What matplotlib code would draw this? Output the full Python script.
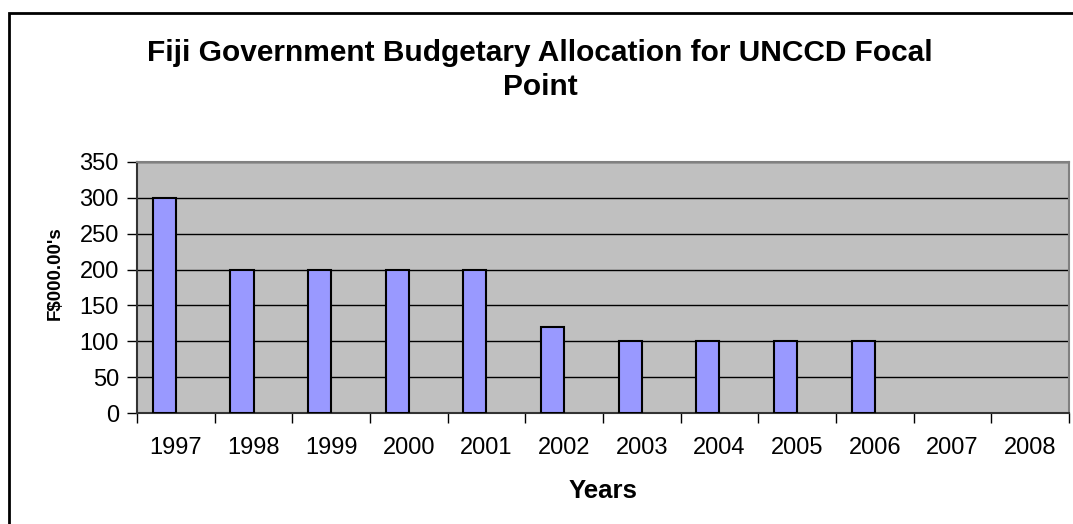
import matplotlib
matplotlib.use("Agg")
import matplotlib.pyplot as plt
import numpy as np
from matplotlib.patches import Rectangle

# data
years = ["1997", "1998", "1999", "2000", "2001", "2002",
         "2003", "2004", "2005", "2006", "2007", "2008"]
allocation = [300, 200, 200, 200, 200, 120, 100, 100, 100, 100, 0, 0]
y_ticks = [0, 50, 100, 150, 200, 250, 300, 350]

plt.rcParams['font.family'] = ['Liberation Sans', 'DejaVu Sans']

fig = plt.figure(figsize=(10.73, 5.24), dpi=100)
ax = fig.add_axes([137 / 1073, 111 / 524, 932 / 1073, 251 / 524])
ax.set_facecolor('#C0C0C0')

x = np.arange(len(years))
for xi, v in zip(x, allocation):
    if v > 0:
        ax.bar(xi, v, width=0.3, align='edge', color='#9999FF',
               edgecolor='black', linewidth=1.5, zorder=3)
# bars sit left of centre (room for a second, empty series)
for b in ax.patches:
    b.set_x(b.get_x() - 0.3)

ax.set_xlim(-0.5, len(years) - 0.5)
ax.set_ylim(0, 350)
ax.set_yticks(y_ticks)
ax.tick_params(axis='y', labelsize=17, length=7, width=1, direction='out', pad=6)
ax.set_xticks(x)
ax.set_xticklabels(years)
ax.set_xticks(np.arange(-0.5, len(years)), minor=True)
ax.tick_params(axis='x', which='major', length=0, labelsize=17, pad=17)
ax.tick_params(axis='x', which='minor', length=7, width=1, direction='out')
ax.yaxis.grid(True, color='black', linewidth=1, zorder=1)
ax.set_axisbelow(True)

for side in ['left', 'bottom']:
    ax.spines[side].set_color('#333333')
    ax.spines[side].set_linewidth(1.5)
for side in ['top', 'right']:
    ax.spines[side].set_color('#808080')
    ax.spines[side].set_linewidth(1.5)

# y label sits a little above the axis centre in the original
fig.text(55 / 1073, 1 - 273 / 524, "F$000.00's", rotation=90,
         ha='center', va='center', fontsize=13.5, fontweight='bold')
ax.set_xlabel("Years", fontsize=18.5, fontweight='bold', labelpad=15)

fig.text(540 / 1073, 1 - 70 / 524,
         "Fiji Government Budgetary Allocation for UNCCD Focal\nPoint",
         ha='center', va='center', fontsize=21.5, fontweight='bold',
         linespacing=1.27)

# chart area border
fig.patches.append(Rectangle((9 / 1073, -0.1), 1.2, 1 - 13 / 524 + 0.1,
                             transform=fig.transFigure, fill=False,
                             edgecolor='black', linewidth=2))

fig.savefig("out.png", dpi=100)
